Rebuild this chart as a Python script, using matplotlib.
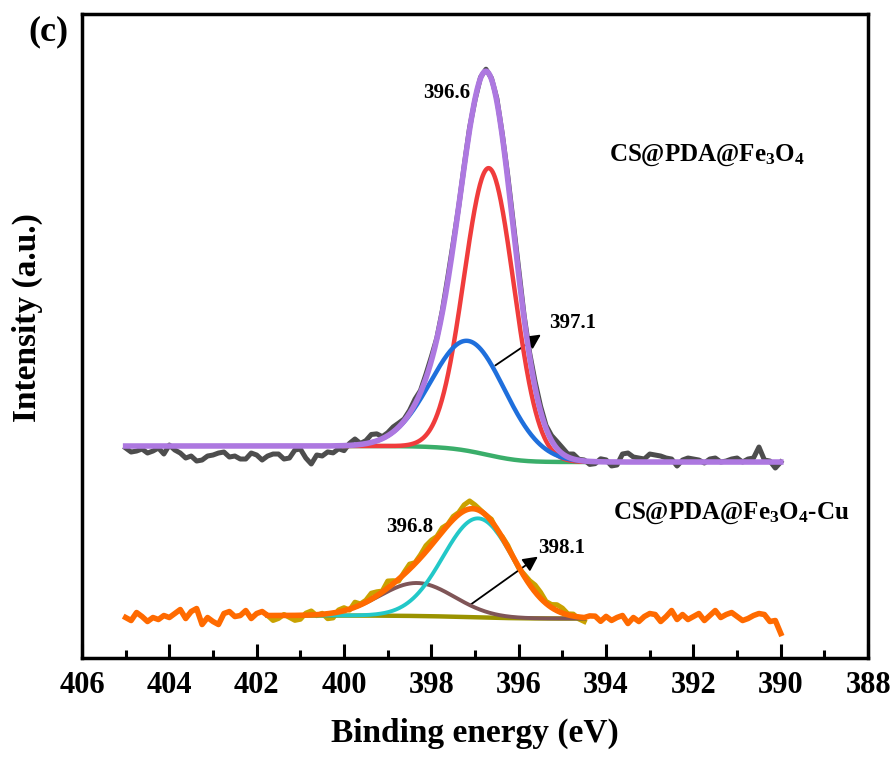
import numpy as np
import matplotlib.pyplot as plt

plt.rcParams['font.family'] = ['Liberation Serif', 'DejaVu Serif']
plt.rcParams['font.weight'] = 'bold'
plt.rcParams['axes.labelweight'] = 'bold'
plt.rcParams['mathtext.fontset'] = 'custom'
plt.rcParams['mathtext.rm'] = 'Liberation Serif:bold'
plt.rcParams['mathtext.default'] = 'rm'

# binding energy (eV): raw scan step 0.125 eV, fine grid for fitted curves
be_raw = np.linspace(405, 390, 121)
be_fine = np.linspace(405, 390, 1201)

# CS@PDA@Fe3O4 : fitted peaks (center eV, height, sigma eV), Shirley background ends
top_centers = [396.68, 397.15]
top_heights = [287, 110]
top_sigmas = [0.57, 0.85]
top_bg = [212, 196]          # high BE side, low BE side
top_fit = [400.0, 394.5]
# raw minus envelope (405 -> 390 eV)
top_res = [-2, -6, -5, -3, -7, -5, -2, -8, 1, -4, -7, -12, -10, -15, -14, -10,
           -9, -7, -6, -11, -10, -13, -13, -7, -9, -14, -10, -8, -8, -13, -12, -4,
           -3, -12, -18, -9, -10, -6, -7, -3, -5, 2, 6, 1, 3, 8, 7, 2,
           3, 5, 4, 2, 3, 5, 2, 4, 4, 1, 2, 4, 3, 0, 1, 2,
           -1, 1, 2, 1, 3, 2, 4, 5, 6, 3, 4, 6, 5, 3, 5, 7,
           6, 3, 5, 1, 1, -3, -2, 3, 2, -4, -3, 8, 9, 5, 4, 3,
           8, 7, 6, 4, 3, -4, 2, 4, 3, 2, -1, 3, 4, 0, 1, 3,
           4, 0, 3, 4, 15, 2, 1, -6, 0]

# CS@PDA@Fe3O4-Cu
bot_centers = [396.93, 398.33]
bot_heights = [99, 33]
bot_sigmas = [0.8, 0.85]
bot_bg = [42.5, 39.5]
bot_fit = [401.75, 394.5]
bot_res = [-2, -5, 3, -1, -6, -2, -4, 0, -2, 2, 6, -3, 4, 7, -9, -2,
           -6, -9, 2, 4, -1, 0, 5, -3, 2, 4, 0, -5, -3, 1, -2, -5,
           -4, 2, 4, -1, 1, -5, -5, 2, 3, -1, 5, 1, 2, 6, 4, 1,
           7, 3, -2, 2, 5, 1, 3, 6, 5, 2, 4, 1, 3, 2, 6, 8,
           4, 1, 0, 2, -2, 1, 2, 0, -1, 2, 4, 7, 6, 2, 3, 6,
           5, 1, 2, -2, -4, 2, 2, -3, 2, -2, 1, 3, -5, 1, -3, 2,
           5, 4, -3, 2, 8, -1, 4, -1, 2, 5, -2, 3, 8, 1, 4, 6,
           2, -2, 0, 3, 5, 4, -3, -2, -15]


def gauss(x, c, h, s):
    return h * np.exp(-(x - c) ** 2 / (2 * s ** 2))


def fit_curves(centers, heights, sigmas, bg):
    peaks = [gauss(be_fine, c, h, s) for c, h, s in zip(centers, heights, sigmas)]
    tot = np.sum(peaks, axis=0)
    cum = np.cumsum(tot[::-1])[::-1]
    shirley = bg[1] + (bg[0] - bg[1]) * cum / cum[0]
    return [p + shirley for p in peaks], shirley, tot + shirley


fig = plt.figure(figsize=(8.95, 7.58), dpi=100)
ax = fig.add_axes([0.0916, 0.1319, 0.8784, 0.8496])

# upper spectrum
t_peaks, t_bg, t_env = fit_curves(top_centers, top_heights, top_sigmas, top_bg)
t_raw = t_env[::10] + np.array(top_res)
m = (be_fine <= top_fit[0] + 1e-9) & (be_fine >= top_fit[1] - 1e-9)
ax.plot(be_raw, t_raw, color='#4d4d4d', lw=3.6, zorder=2)
ax.plot(be_fine[m], t_bg[m], color='#3aae6a', lw=3.2, zorder=3)
ax.plot(be_fine[m], t_peaks[0][m], color='#f03c3c', lw=3.2, zorder=4)
ax.plot(be_fine[m], t_peaks[1][m], color='#1f6fdc', lw=3.2, zorder=5)
ax.plot(be_fine, t_env, color='#ad78e0', lw=4, zorder=6)

# lower spectrum
b_peaks, b_bg, b_env = fit_curves(bot_centers, bot_heights, bot_sigmas, bot_bg)
b_raw = b_env[::10] + np.array(bot_res)
mr = (be_raw <= bot_fit[0] + 1e-9) & (be_raw >= bot_fit[1] - 1e-9)
mf = (be_fine <= bot_fit[0] + 1e-9) & (be_fine >= bot_fit[1] - 1e-9)
left = be_raw > bot_fit[0] + 1e-9
right = be_raw < bot_fit[1] - 1e-9
ax.plot(be_raw[mr], b_raw[mr], color='#c9a200', lw=3.6, zorder=2)
ax.plot(be_fine[mf], b_bg[mf], color='#9a9300', lw=3.2, zorder=3)
ax.plot(be_fine[mf], b_peaks[1][mf], color='#7f5557', lw=2.8, zorder=4)
ax.plot(be_fine[mf], b_peaks[0][mf], color='#22c8c8', lw=2.8, zorder=5)
ox = np.concatenate([be_raw[left], be_fine[mf], be_raw[right]])
oy = np.concatenate([b_raw[left], b_env[mf], b_raw[right]])
ax.plot(ox, oy, color='#ff6a00', lw=4, zorder=6)

# labels and arrows
ax.text(397.64, 565, '396.6', fontsize=15, ha='center', va='center')
ax.text(394.76, 335, '397.1', fontsize=15, ha='center', va='center')
ax.annotate('', xy=(395.44, 325), xytext=(396.59, 291),
            arrowprops=dict(arrowstyle='-|>', color='k', lw=1.3, mutation_scale=22))
ax.text(398.49, 131, '396.8', fontsize=15, ha='center', va='center')
ax.text(395.01, 110, '398.1', fontsize=15, ha='center', va='center')
ax.annotate('', xy=(395.51, 103), xytext=(397.18, 51),
            arrowprops=dict(arrowstyle='-|>', color='k', lw=1.3, mutation_scale=22))
ax.text(393.93, 503, r'CS@PDA@Fe$_3$O$_4$', fontsize=18, ha='left', va='center')
ax.text(393.84, 145, r'CS@PDA@Fe$_3$O$_4$-Cu', fontsize=18, ha='left', va='center')

ax.set_xlim(406, 388)
ax.set_ylim(0, 644)
ax.set_xticks(np.arange(406, 387, -2))
ax.set_xticks(np.arange(405, 388, -2), minor=True)
ax.set_yticks([])
ax.tick_params(axis='x', which='major', direction='in', length=10, width=2.2,
               labelsize=22, pad=9)
ax.tick_params(axis='x', which='minor', direction='in', length=5.5, width=2.2)
for sp in ax.spines.values():
    sp.set_linewidth(2.5)
ax.set_xlabel('Binding energy (eV)', fontsize=24, labelpad=13)
ax.set_ylabel('Intensity (a.u.)', fontsize=24)
ax.yaxis.set_label_coords(-0.05, 0.528)
fig.text(0.054, 0.958, '(c)', fontsize=26, ha='center', va='center')

fig.savefig('out.png', dpi=100)
